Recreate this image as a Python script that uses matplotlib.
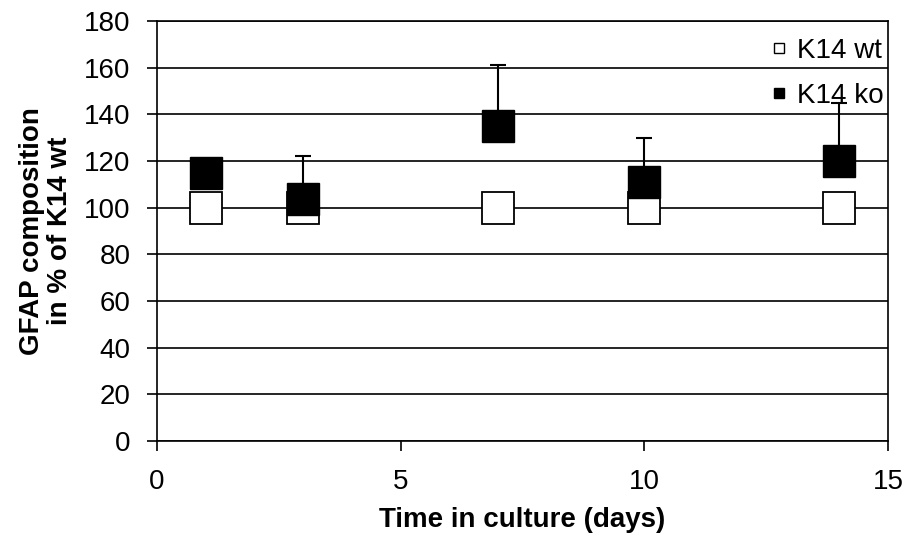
import matplotlib
matplotlib.use('Agg')
import matplotlib.pyplot as plt
from matplotlib.lines import Line2D

plt.rcParams['font.family'] = ['Liberation Sans', 'DejaVu Sans']

days = [1, 3, 7, 10, 14]
wt = [100, 100, 100, 100, 100]
ko = [115, 103.5, 135, 111, 120]
ko_err = [0, 18.5, 26, 19, 25]

fig = plt.figure(figsize=(9.11, 5.38), dpi=100)
ax = fig.add_axes([0.1723, 0.1803, 0.8025, 0.7807])

ax.set_xlim(0, 15)
ax.set_ylim(0, 180)
ax.set_yticks(range(0, 181, 20))
ax.set_xticks([0, 5, 10, 15])
ax.yaxis.grid(True, color='black', linewidth=1.2)
ax.set_axisbelow(True)

ax.errorbar(days, ko, yerr=[[0]*5, ko_err], fmt='none', ecolor='black',
            elinewidth=1.5, capsize=6, capthick=1.5, zorder=2)
ax.plot(days, wt, 's', color='white', markeredgecolor='black', markersize=23,
        markeredgewidth=1.3, linestyle='none', zorder=3)
ax.plot(days, ko, 's', color='black', markersize=23, linestyle='none', zorder=4)

for s in ax.spines.values():
    s.set_color('black')
    s.set_linewidth(1.2)
ax.tick_params(axis='both', direction='out', length=7, width=1.2,
               labelsize=20, colors='black')
ax.tick_params(axis='y', pad=12)
ax.tick_params(axis='x', pad=13)

ax.set_xlabel('Time in culture (days)', fontsize=20, fontweight='bold', labelpad=9)
ax.set_ylabel('GFAP composition\nin % of K14 wt', fontsize=20, fontweight='bold',
              labelpad=8, linespacing=1.1)

handles = [Line2D([], [], marker='s', color='white', markeredgecolor='black',
                  markersize=7.5, linestyle='none', markeredgewidth=1),
           Line2D([], [], marker='s', color='black', markersize=7.5, linestyle='none')]
leg = ax.legend(handles, ['K14 wt', 'K14 ko'], loc='upper right', frameon=False,
                fontsize=20, handletextpad=0.35, labelspacing=0.7,
                bbox_to_anchor=(1.028, 1.02), handlelength=0.6)
leg.set_zorder(1)

fig.savefig('out.png', dpi=100)
